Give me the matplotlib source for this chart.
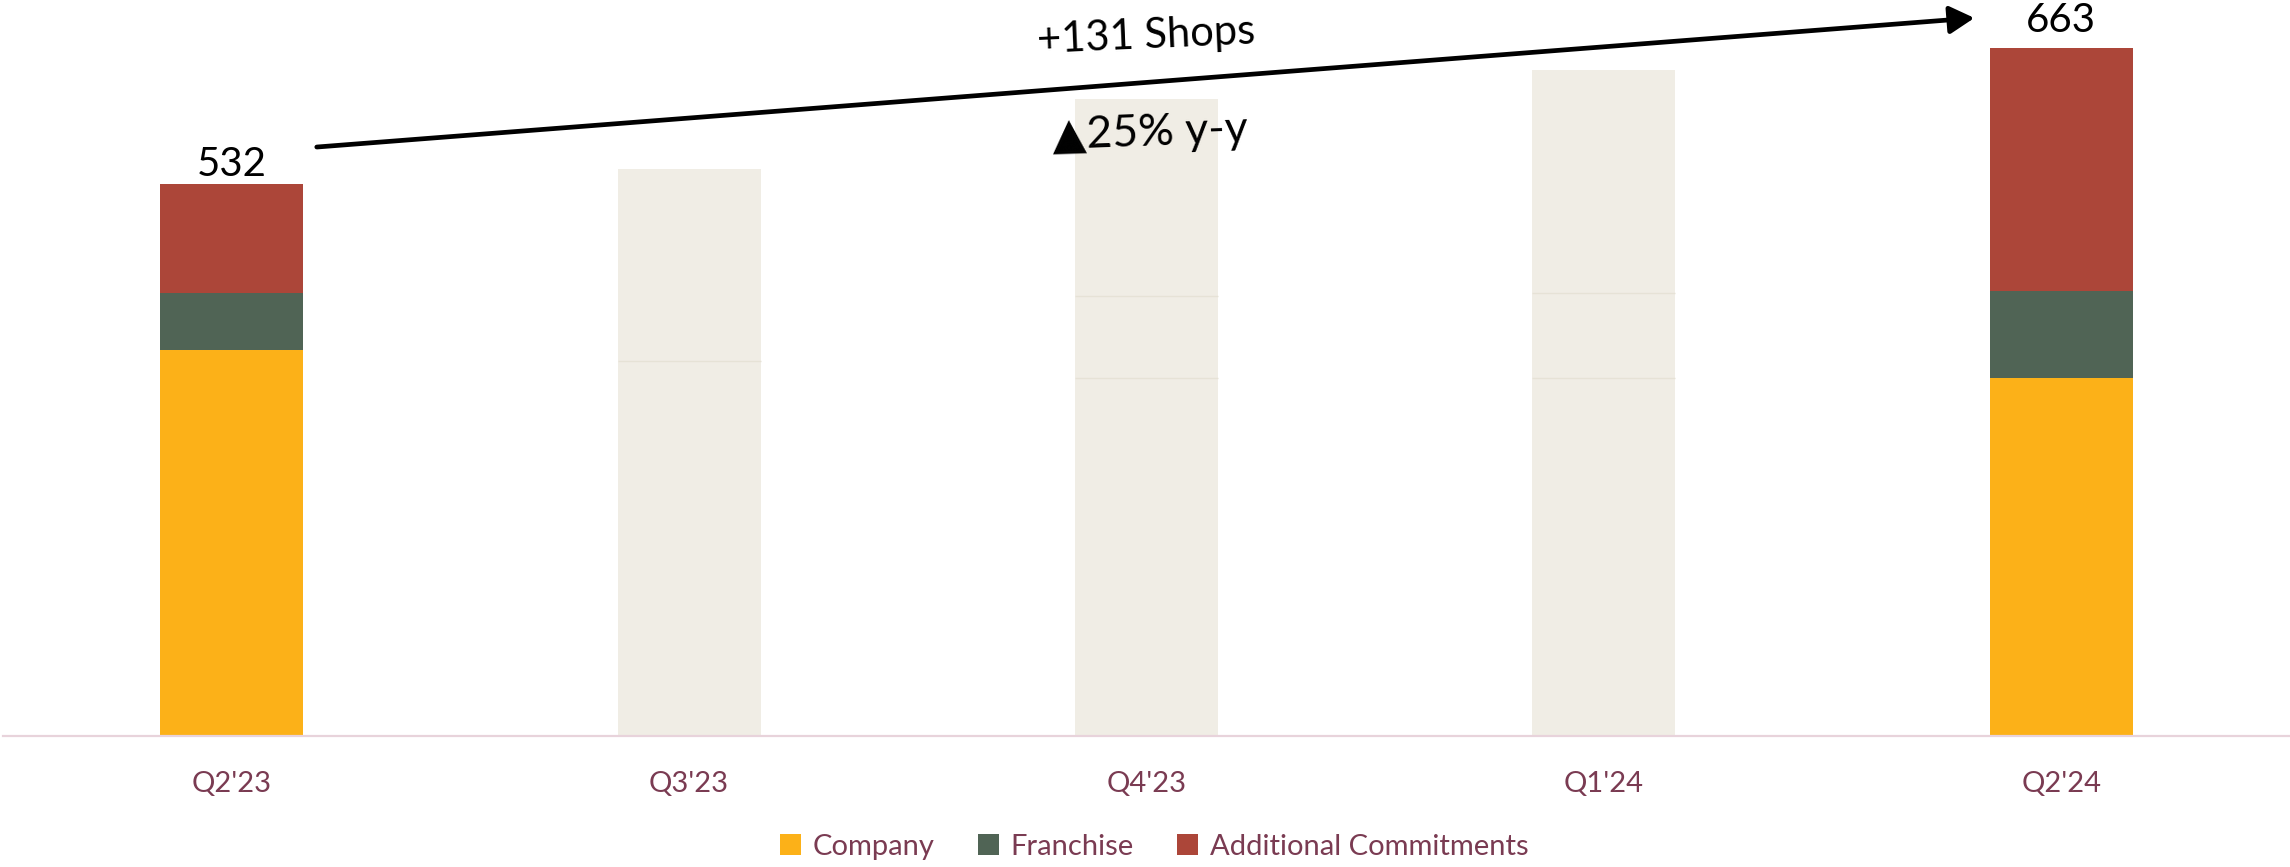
import matplotlib
matplotlib.use("Agg")
import matplotlib.pyplot as plt
from matplotlib.patches import Patch

# ---- data ----
quarters = ["Q2'23", "Q3'23", "Q4'23", "Q1'24", "Q2'24"]
company = [372, 361, 345, 345, 345]
franchise = [55, 0, 79, 82, 84]
additional = [105, 185, 190, 215, 234]
highlighted = [True, False, False, False, True]
totals = [c + f + a for c, f, a in zip(company, franchise, additional)]
series_names = ["Company", "Franchise", "Additional Commitments"]
growth_label = "+131 Shops"
growth_pct_label = "\u25B225% y-y"

# ---- style ----
plt.rcParams['font.family'] = ['Lato', 'DejaVu Sans']
col_company = "#FCB118"
col_franchise = "#506455"
col_additional = "#AC4639"
col_ghost = "#F0EDE5"
col_ghost_edge = "#E6E2D6"
col_text = "#7A3B52"
col_axis = "#E8D3DB"

fig = plt.figure(figsize=(22.9, 8.67), dpi=100)
ax = fig.add_axes([3 / 2290, 131 / 867, 2287 / 2290, 736 / 867])

x = list(range(len(quarters)))
width = 0.313
for i in x:
    if highlighted[i]:
        cols = [col_company, col_franchise, col_additional]
    else:
        cols = [col_ghost] * 3
    bottom = 0
    for k, (val, c) in enumerate(zip([company[i], franchise[i], additional[i]], cols)):
        if val > 0:
            ax.bar(i, val, width=width, bottom=bottom, color=c,
                   edgecolor="none", linewidth=0, zorder=2)
            if not highlighted[i] and bottom > 0:
                ax.hlines(bottom, i - width / 2, i + width / 2,
                          color=col_ghost_edge, linewidth=1.0, zorder=3)
        bottom += val

# value labels on highlighted bars
label_offsets = {0: 6, 4: 11.5}
for i in x:
    if highlighted[i]:
        ax.annotate(str(totals[i]), xy=(i, totals[i]),
                    xytext=(0, label_offsets[i]), textcoords="offset points",
                    ha="center", va="baseline", fontsize=29, color="black",
                    zorder=5)

# growth arrow
ax.annotate("", xy=(3.81, totals[4] + 29), xytext=(0.186, totals[0] + 35.6),
            arrowprops=dict(arrowstyle="-|>,head_length=0.75,head_width=0.42",
                            mutation_scale=20, lw=3.4, color="black",
                            shrinkA=0, shrinkB=0),
            zorder=6)
ax.text(2.0, 674, growth_label, ha="center", va="center", fontsize=30,
        rotation=2.5, color="black", zorder=6)
ax.text(2.008, 581, growth_pct_label, ha="center", va="center", fontsize=32,
        rotation=2.0, color="black", zorder=6)

ax.set_xlim(-0.5, 4.5)
ax.set_ylim(0, 709.3)
ax.set_xticks(x)
ax.set_xticklabels(quarters, fontsize=21, color=col_text)
ax.tick_params(axis="x", length=0, pad=25)
ax.set_yticks([])
for s in ["top", "right", "left"]:
    ax.spines[s].set_visible(False)
ax.spines["bottom"].set_color(col_axis)
ax.spines["bottom"].set_linewidth(1.6)
ax.set_facecolor("none")

handles = [Patch(facecolor=col_company), Patch(facecolor=col_franchise),
           Patch(facecolor=col_additional)]
leg = fig.legend(handles, series_names, loc="center",
                 bbox_to_anchor=(0.504, 0.023), ncol=3, frameon=False,
                 fontsize=21, handlelength=0.72, handleheight=0.72,
                 handletextpad=0.4, columnspacing=1.5)
for t in leg.get_texts():
    t.set_color(col_text)

fig.savefig("out.png", dpi=100)
